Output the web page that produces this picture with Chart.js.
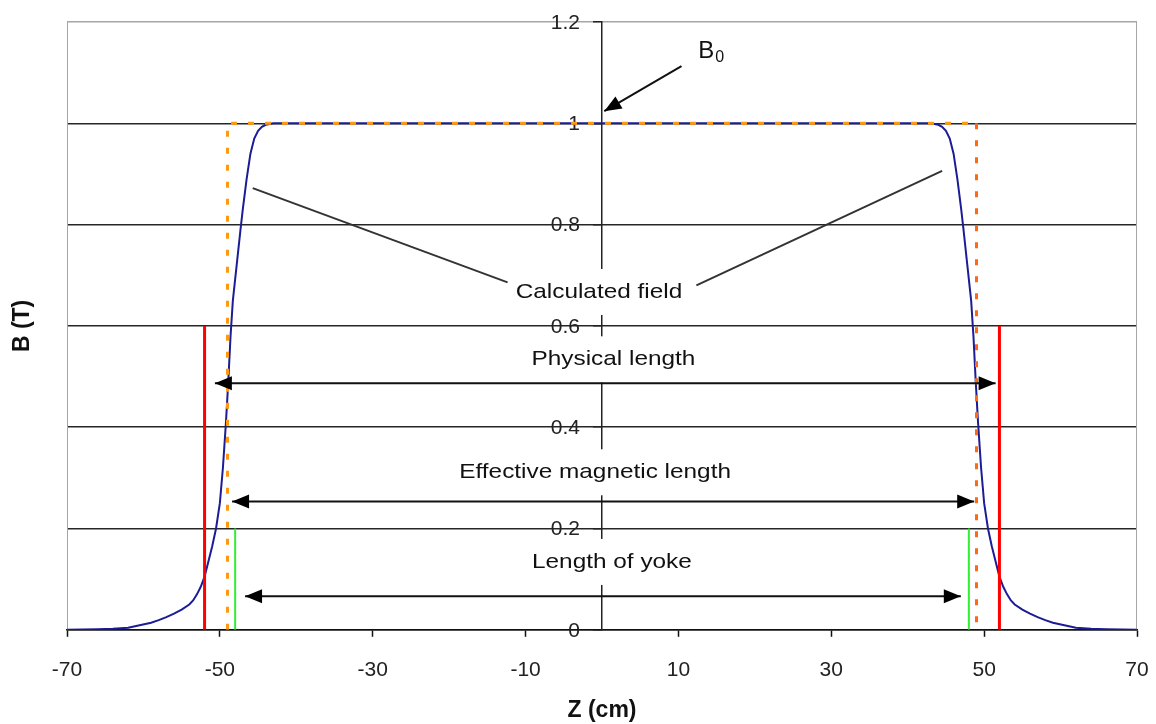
<!DOCTYPE html>
<html>
<head>
<meta charset="utf-8">
<script src="https://cdn.jsdelivr.net/npm/chart.js@4.4.1/dist/chart.umd.min.js"></script>
<style>
  html, body { margin: 0; padding: 0; background: #fff; }
</style>
</head>
<body>
<canvas id="fieldChart" width="1156" height="724"></canvas>
<script>
// calculated field along the magnet axis, Z in cm, B in tesla
const zField = [-70, -66, -64, -62, -60.5, -59, -58, -57, -56, -55,
  -54, -53.5, -53, -52.5, -52, -51.5, -51, -50.5, -50, -49.6,
  -49.2, -48.9, -48.6, -48.3, -47.8, -47.3, -47, -46.5, -46, -45.5,
  -45, -44.5, -44, -43, -40, -20, 0, 20,
  40, 43, 44, 44.5, 45, 45.5, 46, 46.5, 47, 47.3,
  47.8, 48.3, 48.6, 48.9, 49.2, 49.6, 50, 50.5, 51, 51.5,
  52, 52.5, 53, 53.5, 54, 55, 56, 57, 58, 59,
  60.5, 62, 64, 66, 70];
const bField = [0, 0.001, 0.002, 0.004, 0.009, 0.014, 0.019, 0.025, 0.032, 0.040,
  0.050, 0.058, 0.070, 0.085, 0.105, 0.135, 0.165, 0.20, 0.25, 0.32,
  0.41, 0.49, 0.58, 0.65, 0.72, 0.79, 0.83, 0.89, 0.94, 0.97,
  0.985, 0.993, 0.997, 1.0, 1.0, 1.0, 1.0, 1.0,
  1.0, 1.0, 0.997, 0.993, 0.985, 0.97, 0.94, 0.89, 0.83, 0.79,
  0.72, 0.65, 0.58, 0.49, 0.41, 0.32, 0.25, 0.20, 0.165, 0.135,
  0.105, 0.085, 0.070, 0.058, 0.050, 0.040, 0.032, 0.025, 0.019, 0.014,
  0.009, 0.004, 0.002, 0.001, 0];

// marker lines: ends (cm) and heights (T)
const physicalEnds = [-52, 52];
const physicalTop = 0.6;
const effectiveEnds = [-49, 49];
const effectiveTop = 1.0;
const yokeEnds = [-48, 48];
const yokeTop = 0.2;

const xTickValues = [-70, -50, -30, -10, 10, 30, 50, 70];
const yTickValues = [0, 0.2, 0.4, 0.6, 0.8, 1, 1.2];

const FONT = '"Liberation Sans", Arial, sans-serif';

function pts(xs, ys) {
  return xs.map((x, i) => ({ x: x, y: ys[i] }));
}

// two vertical segments split by a gap
function pairOfVerticals(ends, top) {
  return [
    { x: ends[0], y: 0 }, { x: ends[0], y: top },
    { x: ends[0], y: null },
    { x: ends[1], y: 0 }, { x: ends[1], y: top }
  ];
}

// annotation text + arrows, in data units
const labels = [
  { text: 'Calculated field', x: -0.4, y: 0.667 },
  { text: 'Physical length', x: 1.5, y: 0.534 },
  { text: 'Effective magnetic length', x: -0.9, y: 0.311 },
  { text: 'Length of yoke', x: 1.3, y: 0.134 }
];
const leaders = [
  [[-45.7, 0.872], [-12.35, 0.686]],
  [[12.35, 0.680], [44.5, 0.906]]
];
const arrows = [
  { from: [10.4, 1.113], to: [0.3, 1.024], both: false },
  { from: [-50.65, 0.487], to: [51.5, 0.487], both: true },
  { from: [-48.4, 0.2535], to: [48.7, 0.2535], both: true },
  { from: [-46.7, 0.066], to: [46.95, 0.066], both: true }
];

function arrowHead(ctx, x1, y1, x2, y2) {
  const ang = Math.atan2(y2 - y1, x2 - x1);
  const len = 17, half = 7;
  ctx.beginPath();
  ctx.moveTo(x2, y2);
  ctx.lineTo(x2 - len * Math.cos(ang) + half * Math.sin(ang), y2 - len * Math.sin(ang) - half * Math.cos(ang));
  ctx.lineTo(x2 - len * Math.cos(ang) - half * Math.sin(ang), y2 - len * Math.sin(ang) + half * Math.cos(ang));
  ctx.closePath();
  ctx.fill();
}

const annotationPlugin = {
  id: 'magnetNotes',
  beforeDatasetsDraw(chart) {
    const { ctx, chartArea: a } = chart;
    const sx = chart.scales.x, sy = chart.scales.y;
    ctx.save();
    ctx.strokeStyle = '#a6a6a6';
    ctx.lineWidth = 1;
    ctx.beginPath();
    ctx.moveTo(a.left + 0.5, a.top);
    ctx.lineTo(a.left + 0.5, a.bottom);
    ctx.moveTo(a.right - 0.5, a.top);
    ctx.lineTo(a.right - 0.5, a.bottom);
    ctx.stroke();

    // y tick labels sit just left of the centre axis
    const axisX = sx.getPixelForValue(0);
    ctx.fillStyle = '#222';
    ctx.font = '21px ' + FONT;
    ctx.textAlign = 'right';
    ctx.textBaseline = 'middle';
    yTickValues.forEach(v => {
      ctx.fillText(String(v), axisX - 22, sy.getPixelForValue(v) + 1);
    });
    ctx.restore();
  },
  afterDatasetsDraw(chart) {
    const { ctx } = chart;
    const sx = chart.scales.x, sy = chart.scales.y;
    const px = v => sx.getPixelForValue(v);
    const py = v => sy.getPixelForValue(v);
    const stretch = 1.16;

    ctx.save();
    ctx.font = '21px ' + FONT;
    ctx.textAlign = 'center';
    ctx.textBaseline = 'middle';

    // white boxes behind the labels
    labels.forEach(l => {
      const w = ctx.measureText(l.text).width * stretch;
      ctx.fillStyle = '#fff';
      ctx.fillRect(px(l.x) - w / 2 - 6, py(l.y) - 23, w + 12, 46);
    });
    labels.forEach(l => {
      ctx.save();
      ctx.translate(px(l.x), py(l.y));
      ctx.scale(stretch, 1);
      ctx.fillStyle = '#111';
      ctx.fillText(l.text, 0, 0);
      ctx.restore();
    });

    // leader lines to the curve
    ctx.strokeStyle = '#333';
    ctx.lineWidth = 2;
    leaders.forEach(s => {
      ctx.beginPath();
      ctx.moveTo(px(s[0][0]), py(s[0][1]));
      ctx.lineTo(px(s[1][0]), py(s[1][1]));
      ctx.stroke();
    });

    // arrows
    ctx.strokeStyle = '#111';
    ctx.fillStyle = '#000';
    arrows.forEach(ar => {
      const x1 = px(ar.from[0]), y1 = py(ar.from[1]);
      const x2 = px(ar.to[0]), y2 = py(ar.to[1]);
      ctx.beginPath();
      ctx.moveTo(x1, y1);
      ctx.lineTo(x2, y2);
      ctx.stroke();
      arrowHead(ctx, x1, y1, x2, y2);
      if (ar.both) arrowHead(ctx, x2, y2, x1, y1);
    });

    // B0 label
    ctx.textAlign = 'left';
    ctx.textBaseline = 'alphabetic';
    ctx.fillStyle = '#111';
    ctx.font = '24px ' + FONT;
    const bx = px(12.6), by = py(1.129);
    ctx.fillText('B', bx, by);
    const bw = ctx.measureText('B').width;
    ctx.font = '16px ' + FONT;
    ctx.fillText('0', bx + bw + 1, by + 4);
    ctx.restore();
  },
  afterDraw(chart) {
    const { ctx, chartArea: a } = chart;
    ctx.save();
    ctx.fillStyle = '#111';
    ctx.font = 'bold 23px ' + FONT;
    ctx.textAlign = 'center';
    ctx.textBaseline = 'middle';
    ctx.fillText('Z (cm)', (a.left + a.right) / 2, a.bottom + 81);
    ctx.translate(a.left - 44, (a.top + a.bottom) / 2);
    ctx.rotate(-Math.PI / 2);
    ctx.fillText('B (T)', 0, 0);
    ctx.restore();
  }
};

const lineDefaults = { showLine: true, pointRadius: 0, pointHoverRadius: 0, tension: 0, fill: false };

// keep edge labels from pushing the plot area inwards
function noEdgePadding(s) {
  s.paddingLeft = 0;
  s.paddingRight = 0;
  s.paddingTop = 0;
  s.paddingBottom = 0;
}

const chart = new Chart(document.getElementById('fieldChart'), {
  type: 'scatter',
  data: {
    datasets: [
      Object.assign({
        label: 'Effective length (right)',
        data: [{ x: effectiveEnds[1], y: effectiveTop }, { x: effectiveEnds[1], y: 0 }],
        borderColor: '#ff6a10', borderWidth: 3, borderDash: [6, 11], order: 1
      }, lineDefaults),
      Object.assign({
        label: 'Effective length',
        data: [{ x: effectiveEnds[0], y: 0 }, { x: effectiveEnds[0], y: effectiveTop }, { x: effectiveEnds[1], y: effectiveTop }],
        borderColor: '#ff9a10', borderWidth: 3, borderDash: [6, 11], order: 2
      }, lineDefaults),
      Object.assign({
        label: 'Physical length',
        data: pairOfVerticals(physicalEnds, physicalTop),
        borderColor: '#ff0000', borderWidth: 3, spanGaps: false, order: 3
      }, lineDefaults),
      Object.assign({
        label: 'Length of yoke',
        data: pairOfVerticals(yokeEnds, yokeTop),
        borderColor: '#33ee33', borderWidth: 2, spanGaps: false, order: 4
      }, lineDefaults),
      Object.assign({
        label: 'Calculated field',
        data: pts(zField, bField),
        borderColor: '#1c1c96', borderWidth: 2, order: 5
      }, lineDefaults)
    ]
  },
  options: {
    responsive: false,
    animation: false,
    events: [],
    layout: { padding: { left: 67, right: 19, top: 22, bottom: 20 } },
    plugins: { legend: { display: false }, tooltip: { enabled: false } },
    scales: {
      x: {
        type: 'linear', min: -70, max: 70,
        afterBuildTicks: s => { s.ticks = xTickValues.map(v => ({ value: v })); },
        afterFit: noEdgePadding,
        grid: { drawOnChartArea: false, drawTicks: true, tickLength: 7, tickColor: '#111', tickWidth: 1.5 },
        border: { display: true, color: '#111', width: 1.5 },
        ticks: { color: '#222', font: { family: FONT, size: 21 }, padding: 21, maxRotation: 0, autoSkip: false }
      },
      y: {
        type: 'linear', min: 0, max: 1.2, position: { x: 0 },
        afterBuildTicks: s => { s.ticks = yTickValues.map(v => ({ value: v })); },
        afterFit: noEdgePadding,
        grid: {
          color: c => (c.tick && c.tick.value >= 1.2 ? '#a6a6a6' : '#262626'),
          lineWidth: 1.5, drawTicks: true, tickLength: 8, tickColor: '#222'
        },
        border: { display: true, color: '#222', width: 1.5 },
        ticks: { display: false }
      }
    }
  },
  plugins: [annotationPlugin]
});
</script>
</body>
</html>
